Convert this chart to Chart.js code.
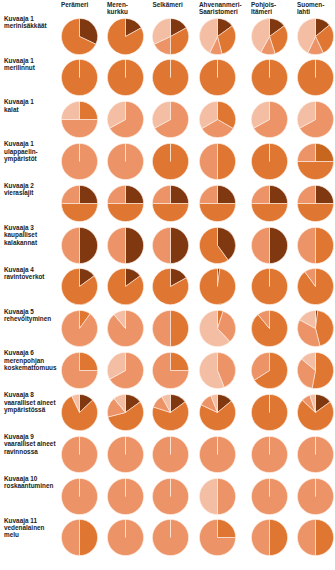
<!DOCTYPE html>
<html>
<head>
<meta charset="utf-8">
<script src="https://cdn.jsdelivr.net/npm/chart.js@4"></script>
<style>
  body { margin: 0; background: #fff; }
  #wrap { position: relative; width: 335px; height: 570px; overflow: hidden;
    font-family: "Liberation Sans", Arial, sans-serif; font-weight: bold; color: #222; }
  .lbl { position: absolute; font-size: 6.4px; line-height: 7.4px; white-space: nowrap; }
  .pie { position: absolute; }
</style>
</head>
<body>
<div id="wrap"></div>
<script>
// sea areas (columns) and indicators (rows)
const areas = ['Perämeri', 'Meren-\nkurkku', 'Selkämeri', 'Ahvenanmeri-\nSaaristomeri', 'Pohjois-\nItämeri', 'Suomen-\nlahti'];
const indicators = [
  'Kuvaaja 1\nmerinisäkkäät',
  'Kuvaaja 1\nmerilinnut',
  'Kuvaaja 1\nkalat',
  'Kuvaaja 1\nulappaelin-\nympäristöt',
  'Kuvaaja 2\nvieraslajit',
  'Kuvaaja 3\nkaupalliset\nkalakannat',
  'Kuvaaja 4\nravintoverkot',
  'Kuvaaja 5\nrehevöityminen',
  'Kuvaaja 6\nmerenpohjan\nkoskemattomuus',
  'Kuvaaja 8\nvaaralliset aineet\nympäristössä',
  'Kuvaaja 9\nvaaralliset aineet\nravinnossa',
  'Kuvaaja 10\nroskaantuminen',
  'Kuvaaja 11\nvedenalainen\nmelu'
];

// shares (%) per class, one row per indicator, one value per area
const brown = [
  [32, 17, 17, 15, 15, 14],
  [0, 0, 0, 0, 0, 0],
  [0, 0, 0, 0, 0, 0],
  [0, 0, 0, 0, 0, 0],
  [25, 25, 25, 25, 25, 25],
  [50, 50, 50, 40, 50, 0],
  [15, 15, 17, 2, 0, 0],
  [0, 0, 0, 0, 0, 2],
  [0, 0, 0, 0, 0, 0],
  [13, 15, 15, 14, 0, 15],
  [0, 0, 0, 0, 0, 0],
  [0, 0, 0, 0, 0, 0],
  [0, 0, 0, 0, 0, 0]
];
const darkOrange = [
  [0, 0, 0, 0, 0, 0],
  [0, 0, 0, 0, 0, 0],
  [0, 0, 0, 0, 0, 0],
  [0, 0, 0, 0, 0, 25],
  [0, 0, 0, 0, 0, 0],
  [0, 0, 0, 0, 0, 0],
  [0, 0, 0, 0, 0, 0],
  [0, 0, 0, 0, 0, 0],
  [0, 0, 0, 0, 0, 0],
  [0, 0, 0, 0, 0, 0],
  [0, 0, 0, 0, 0, 0],
  [0, 0, 0, 0, 0, 0],
  [0, 0, 0, 0, 0, 0]
];
const orange = [
  [68, 83, 33, 31, 30, 29],
  [100, 100, 100, 100, 100, 100],
  [25, 0, 0, 33, 0, 0],
  [0, 0, 100, 50, 100, 50],
  [50, 50, 50, 50, 50, 50],
  [0, 0, 0, 60, 0, 50],
  [85, 85, 83, 98, 100, 90],
  [10, 0, 50, 5, 89, 44],
  [25, 0, 25, 0, 66, 53],
  [80, 56, 65, 68, 100, 72],
  [0, 0, 0, 0, 0, 0],
  [0, 0, 0, 0, 0, 0],
  [50, 0, 0, 25, 50, 50]
];
const light = [
  [0, 0, 18, 11, 13, 14],
  [0, 0, 0, 0, 0, 0],
  [50, 67, 67, 33, 67, 67],
  [100, 100, 0, 50, 0, 25],
  [25, 25, 25, 25, 25, 25],
  [50, 50, 50, 0, 50, 50],
  [0, 0, 0, 0, 0, 10],
  [90, 89, 50, 33, 11, 37],
  [75, 67, 75, 44, 34, 33],
  [0, 18, 12, 12, 0, 8],
  [100, 100, 100, 100, 100, 100],
  [100, 100, 100, 50, 100, 100],
  [50, 100, 100, 75, 50, 50]
];
const veryLight = [
  [0, 0, 32, 43, 42, 43],
  [0, 0, 0, 0, 0, 0],
  [25, 33, 33, 33, 33, 33],
  [0, 0, 0, 0, 0, 0],
  [0, 0, 0, 0, 0, 0],
  [0, 0, 0, 0, 0, 0],
  [0, 0, 0, 0, 0, 0],
  [0, 11, 0, 62, 0, 17],
  [0, 33, 0, 56, 0, 14],
  [7, 11, 8, 6, 0, 5],
  [0, 0, 0, 0, 0, 0],
  [0, 0, 0, 50, 0, 0],
  [0, 0, 0, 0, 0, 0]
];

const classes = [brown, darkOrange, orange, light, veryLight];
const colors = ['#803810', '#c6661f', '#df7631', '#ec9468', '#f3bea4'];

const colX = [79, 125, 170.5, 217, 269, 315];
const rowY0 = 36, rowStep = 41.83;
const size = 37;

const wrap = document.getElementById('wrap');

function addLabel(text, x, y) {
  const d = document.createElement('div');
  d.className = 'lbl';
  d.style.left = x + 'px';
  d.style.top = y + 'px';
  d.innerHTML = text.split('\n').join('<br>');
  wrap.appendChild(d);
}

areas.forEach((a, c) => addLabel(a, colX[c] - 18, 0.5));

indicators.forEach((name, r) => {
  const cy = rowY0 + r * rowStep;
  addLabel(name, 4, cy - 21.3);

  areas.forEach((a, c) => {
    const vals = [], cols = [];
    classes.forEach((cls, k) => {
      if (cls[r][c] > 0) { vals.push(cls[r][c]); cols.push(colors[k]); }
    });

    const cv = document.createElement('canvas');
    cv.className = 'pie';
    cv.width = size;
    cv.height = size;
    cv.style.left = (colX[c] - size / 2) + 'px';
    cv.style.top = (cy - size / 2) + 'px';
    wrap.appendChild(cv);

    new Chart(cv, {
      type: 'pie',
      data: {
        datasets: [{
          data: vals,
          backgroundColor: cols,
          borderColor: 'rgba(255,240,230,0.75)',
          borderWidth: 0.8
        }]
      },
      options: {
        responsive: false,
        animation: false,
        devicePixelRatio: 1,
        layout: { padding: 0 },
        plugins: { legend: { display: false }, tooltip: { enabled: false } }
      }
    });
  });
});
</script>
</body>
</html>
